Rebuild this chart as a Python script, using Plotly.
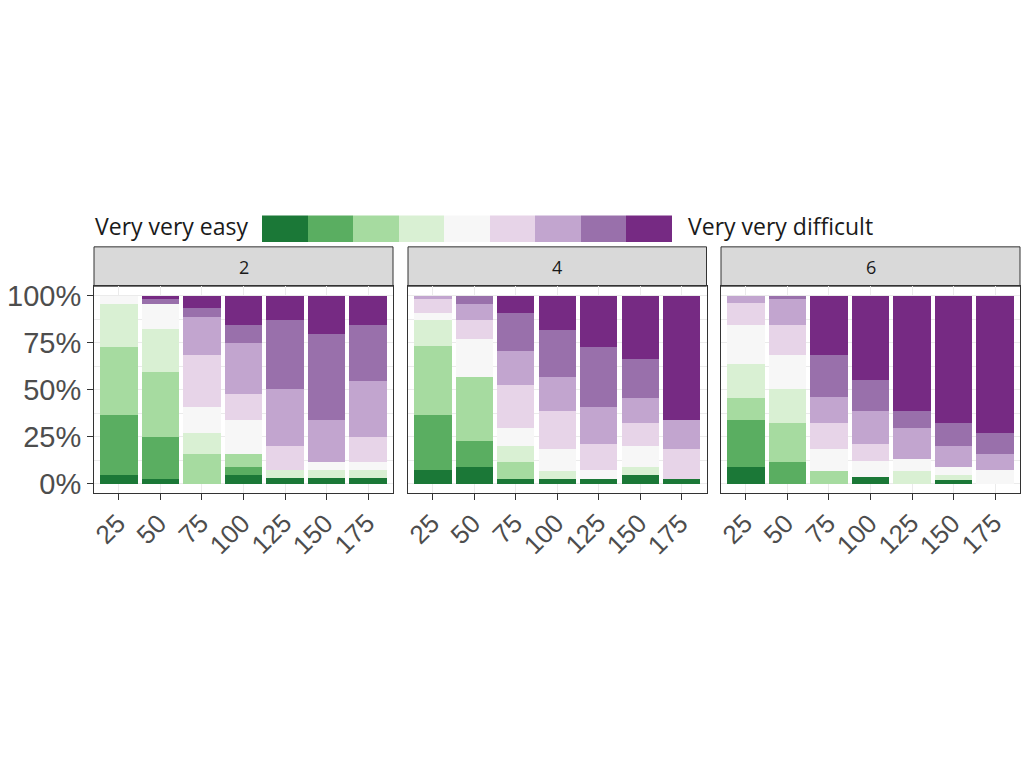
import plotly.graph_objects as go

W, H = 1024, 768

levels = ["Very very easy", "Very easy", "Easy", "Somewhat easy",
          "Neither easy nor difficult", "Somewhat difficult", "Difficult",
          "Very difficult", "Very very difficult"]
level_colors = ["#1b7837", "#5aae61", "#a6dba0", "#d9f0d3", "#f7f7f7",
                "#e7d4e8", "#c2a5cf", "#9970ab", "#762a83"]

x_cats = ["25", "50", "75", "100", "125", "150", "175"]
facets = ["2", "4", "6"]

# percentage per level (bottom -> top: very very easy ... very very difficult), one row per x category
pct_2 = [
    [4.5, 32.0, 36.4, 22.4, 4.7, 0, 0, 0, 0],
    [2.4, 22.6, 34.3, 23.0, 13.2, 0, 0, 2.6, 1.9],
    [0, 0, 15.8, 11.3, 13.9, 27.3, 20.4, 4.5, 6.8],
    [4.5, 4.4, 6.9, 0, 18.3, 13.5, 27.4, 9.5, 15.5],
    [2.8, 0, 0, 4.3, 0, 13.1, 30.0, 36.6, 13.2],
    [2.8, 0, 0, 4.3, 4.4, 0, 22.6, 45.7, 20.2],
    [2.8, 0, 0, 4.3, 4.4, 13.5, 29.4, 30.1, 15.5],
]
pct_4 = [
    [7.1, 29.6, 36.5, 13.6, 4.1, 7.5, 1.6, 0, 0],
    [8.9, 13.9, 33.9, 0, 20.3, 9.8, 8.7, 4.5, 0],
    [2.3, 0, 9.2, 8.7, 9.5, 22.6, 18.3, 20.3, 9.1],
    [2.3, 0, 0, 4.3, 11.8, 20.0, 18.3, 25.2, 18.1],
    [2.3, 0, 0, 0, 4.8, 13.9, 20.0, 31.9, 27.1],
    [4.5, 0, 0, 4.4, 11.3, 12.1, 13.4, 20.6, 33.7],
    [2.3, 0, 0, 0, 0, 16.1, 15.7, 0, 65.9],
]
pct_6 = [
    [8.9, 25.2, 11.6, 17.9, 20.9, 11.3, 4.2, 0, 0],
    [0, 11.5, 20.8, 18.3, 17.7, 16.2, 13.9, 1.6, 0],
    [0, 0, 6.6, 0, 11.8, 13.9, 14.0, 22.0, 31.7],
    [3.5, 0, 0, 0, 8.5, 9.0, 17.8, 16.1, 45.1],
    [0, 0, 0, 6.6, 6.6, 0, 16.5, 9.1, 61.2],
    [2.0, 0, 0, 2.5, 4.4, 0, 11.3, 12.1, 67.7],
    [0, 0, 0, 0, 7.1, 0, 8.7, 11.3, 72.9],
]
y_ticks = [0, 25, 50, 75, 100]
y_ticktext = ["0%", "25%", "50%", "75%", "100%"]

facet_data = [pct_2, pct_4, pct_6]

fig = go.Figure()

for fi, data in enumerate(facet_data):
    ax = "" if fi == 0 else str(fi + 1)
    for li, lev in enumerate(levels):
        fig.add_trace(go.Bar(
            x=x_cats, y=[row[li] for row in data], name=lev,
            marker=dict(color=level_colors[li], line=dict(width=0)),
            xaxis="x" + ax, yaxis="y" + ax, showlegend=False,
        ))

# legend key strip
fig.add_trace(go.Bar(
    x=levels, y=[1] * len(levels), width=1,
    marker=dict(color=level_colors, line=dict(width=0)),
    xaxis="x4", yaxis="y4", showlegend=False, hoverinfo="skip",
))

def px(v):
    return v / W

def py(v):
    return 1 - v / H

panel_x = [(94, 393), (408, 706.5), (721, 1020)]
panel_top, panel_bot = 285, 495.5
strip_top = 245

axis_line = "#333333"
grid_col = "#ebebeb"

layout = dict(
    width=W, height=H,
    margin=dict(l=0, r=0, t=0, b=0),
    paper_bgcolor="white", plot_bgcolor="white",
    barmode="stack", barnorm="percent", bargap=0.1,
    showlegend=False,
    font=dict(family="Liberation Sans, Arial, sans-serif", color="#4d4d4d"),
)

for fi, (x0, x1) in enumerate(panel_x):
    key = "" if fi == 0 else str(fi + 1)
    layout["xaxis" + key] = dict(
        domain=[px(x0), px(x1)], anchor="y" + key,
        type="category", categoryorder="array", categoryarray=x_cats,
        range=[-0.6, 6.6], showticklabels=False,
        ticks="outside", ticklen=6, tickwidth=1, tickcolor=axis_line,
        showgrid=True, gridcolor=grid_col, gridwidth=1,
        showline=True, mirror=True, linecolor=axis_line, linewidth=1,
        zeroline=False, fixedrange=True,
    )
    layout["yaxis" + key] = dict(
        domain=[py(panel_bot), py(panel_top)], anchor="x" + key,
        range=[-5, 105], tickvals=y_ticks, ticktext=y_ticktext,
        showticklabels=(fi == 0),
        tickfont=dict(size=29, color="#4d4d4d"),
        ticks="outside" if fi == 0 else "", ticklen=6, tickwidth=1, tickcolor=axis_line,
        showgrid=True, gridcolor=grid_col, gridwidth=1,
        minor=dict(tickvals=[12.5, 37.5, 62.5, 87.5], showgrid=True,
                   gridcolor=grid_col, gridwidth=0.5, ticks=""),
        showline=True, mirror=True, linecolor=axis_line, linewidth=1,
        zeroline=False, fixedrange=True,
    )

layout["xaxis4"] = dict(domain=[px(262), px(672)], anchor="y4", type="category",
                        range=[-0.5, 8.5], visible=False, fixedrange=True)
layout["yaxis4"] = dict(domain=[py(240), py(213)], anchor="x4", range=[0, 1],
                        visible=False, fixedrange=True)

shapes = []
annotations = []
for fi, (x0, x1) in enumerate(panel_x):
    shapes.append(dict(type="rect", xref="paper", yref="paper",
                       x0=px(x0), x1=px(x1), y0=py(panel_top), y1=py(strip_top),
                       fillcolor="#d9d9d9", line=dict(color=axis_line, width=1),
                       layer="below"))
    annotations.append(dict(xref="paper", yref="paper",
                            x=px((x0 + x1) / 2), y=py((panel_top + strip_top) / 2),
                            text=facets[fi], showarrow=False,
                            xanchor="center", yanchor="middle",
                            font=dict(family="Open Sans", size=18, color="#1a1a1a")))
    key = "x" if fi == 0 else "x" + str(fi + 1)
    for ci, c in enumerate(x_cats):
        # category position on the axis (index of the category)
        annotations.append(dict(xref=key, yref="paper", x=ci, y=py(508),
                                text=c, showarrow=False, textangle=-45,
                                xanchor="right", yanchor="top", xshift=15,
                                font=dict(family="Liberation Sans", size=26, color="#4d4d4d")))

annotations.append(dict(xref="paper", yref="paper", x=px(250), y=py(224),
                        text=levels[0], showarrow=False, xanchor="right", yanchor="middle",
                        font=dict(family="Open Sans", size=23, color="#1a1a1a")))
annotations.append(dict(xref="paper", yref="paper", x=px(686), y=py(224),
                        text=levels[-1], showarrow=False, xanchor="left", yanchor="middle",
                        font=dict(family="Open Sans", size=23, color="#1a1a1a")))

layout["shapes"] = shapes
layout["annotations"] = annotations
fig.update_layout(**layout)

fig.write_html("out.html", config={"displayModeBar": False})
